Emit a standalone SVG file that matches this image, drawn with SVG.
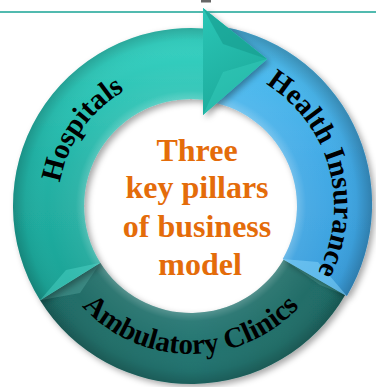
<svg xmlns="http://www.w3.org/2000/svg" width="376" height="387" viewBox="0 0 376 387">
<style>
.lbl{font-family:"Liberation Serif","Times New Roman",serif;font-weight:bold;font-size:29px;fill:#000}
.ctr{font-family:"Liberation Serif","Times New Roman",serif;font-weight:bold;font-size:32px;fill:#e46c0a;text-anchor:middle}
</style>
<defs>
<linearGradient id="gTeal" x1="0" y1="28" x2="0" y2="300" gradientUnits="userSpaceOnUse">
<stop offset="0" stop-color="#38d4c4"/><stop offset="0.5" stop-color="#22b3a6"/><stop offset="1" stop-color="#1ca295"/>
</linearGradient>
<linearGradient id="gBlue" x1="0" y1="25" x2="0" y2="300" gradientUnits="userSpaceOnUse">
<stop offset="0" stop-color="#52c2f2"/><stop offset="0.5" stop-color="#42aae6"/><stop offset="1" stop-color="#3a9edc"/>
</linearGradient>
<linearGradient id="gDark" x1="40" y1="0" x2="346" y2="0" gradientUnits="userSpaceOnUse">
<stop offset="0" stop-color="#1f6b65"/><stop offset="0.5" stop-color="#237470"/><stop offset="1" stop-color="#1f6b65"/>
</linearGradient>
<linearGradient id="gHead" x1="203" y1="8" x2="267" y2="115" gradientUnits="userSpaceOnUse">
<stop offset="0" stop-color="#2ac6b6"/><stop offset="1" stop-color="#1aa596"/>
</linearGradient>
<radialGradient id="tube" cx="191" cy="206" r="180" gradientUnits="userSpaceOnUse">
<stop offset="0.59" stop-color="#fff" stop-opacity="0.25"/>
<stop offset="0.64" stop-color="#fff" stop-opacity="0.06"/>
<stop offset="0.8" stop-color="#fff" stop-opacity="0"/>
<stop offset="0.92" stop-color="#000" stop-opacity="0.04"/>
<stop offset="1" stop-color="#000" stop-opacity="0.22"/>
</radialGradient>
<filter id="sh" x="-10%" y="-10%" width="125%" height="125%">
<feDropShadow dx="3" dy="3" stdDeviation="3" flood-color="#000" flood-opacity="0.35"/>
</filter>
<path id="pHosp" d="M96.95,300.05 A133,133 0 0 1 247.21,85.46"/>
<path id="pHealth" d="M177.54,63.63 A143,143 0 0 1 252.33,335.17"/>
<path id="pAmb" d="M45.18,231.32 A148,148 0 0 0 336.68,232.08"/>
</defs>
<rect width="376" height="387" fill="#fff"/>
<line x1="0" y1="12" x2="376" y2="12" stroke="#17a394" stroke-width="1.3"/>
<rect x="201" y="0" width="10" height="2.5" fill="#666"/>

<g id="connectors"></g>

<g id="ambulatory">
<g filter="url(#sh)">
<path d="M345.15,295 A178,178 0 0 1 40.05,300.33 L100.26,262.7 A107,107 0 0 0 283.66,259.5 Z" fill="url(#gDark)"/>
</g>
<path d="M345.15,295 A178,178 0 0 1 40.05,300.33 L100.26,262.7 A107,107 0 0 0 283.66,259.5 Z" fill="url(#tube)"/>
<polygon points="345.15,295 283.66,259.5 320,285" fill="#4a9a93" opacity="0.55"/>
<polygon points="40.05,300.33 100.26,262.7 80,293" fill="#4a9a93" opacity="0.55"/>
<text class="lbl"><textPath href="#pAmb" startOffset="50%" text-anchor="middle">Ambulatory Clinics</textPath></text>
</g>

<g id="health-insurance">
<g filter="url(#sh)">
<path d="M213.18,25.36 A180,180 0 0 1 346.88,296 L282.8,259 A106,106 0 0 0 203.92,100.79 Z" fill="url(#gBlue)"/>
</g>
<path d="M213.18,25.36 A180,180 0 0 1 346.88,296 L282.8,259 A106,106 0 0 0 203.92,100.79 Z" fill="url(#tube)"/>
<polygon points="346.88,296 282.8,259 318,262" fill="#8fdcff" opacity="0.45"/>
<text class="lbl"><textPath href="#pHealth" startOffset="50%" text-anchor="middle">Health Insurance</textPath></text>
</g>

<g id="hospitals">
<g filter="url(#sh)">
<path d="M40.05,300.33 A178,178 0 0 1 203,28.4 L203,8 L267,59 L203,115 L203,99.7 A107,107 0 0 0 100.26,262.7 Z" fill="url(#gTeal)"/>
</g>
<path d="M40.05,300.33 A178,178 0 0 1 203,28.4 L203,99.7 A107,107 0 0 0 100.26,262.7 Z" fill="url(#tube)"/>
<polygon points="40.05,300.33 100.26,262.7 66,270" fill="#5fe6d8" opacity="0.35"/>
<polygon points="203,8 267,59 203,115" fill="url(#gHead)"/>
<polygon points="203,8 267,59 223,44" fill="#159b8d" opacity="0.6"/>
<polygon points="203,115 267,59 223,72" fill="#3fd6c6" opacity="0.35"/>
<text class="lbl"><textPath href="#pHosp" startOffset="50%" text-anchor="middle">Hospitals</textPath></text>
</g>

<g id="center">
<text class="ctr" x="197" y="161">Three</text>
<text class="ctr" x="197" y="198">key pillars</text>
<text class="ctr" x="197" y="237">of business</text>
<text class="ctr" x="200" y="275">model</text>
</g>
</svg>
